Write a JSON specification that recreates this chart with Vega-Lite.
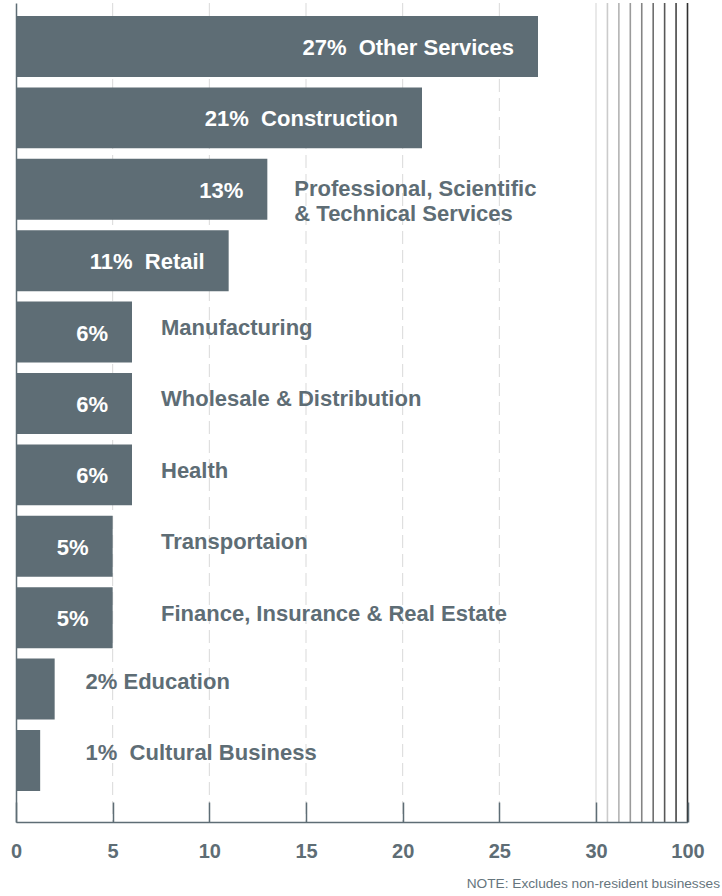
{
  "$schema": "https://vega.github.io/schema/vega-lite/v6.json",
  "width": 672,
  "height": 819,
  "autosize": {"type": "none"},
  "padding": {"left": 16, "top": 3, "right": 34, "bottom": 74},
  "background": "white",
  "config": {"view": {"stroke": null}, "font": "Liberation Sans"},
  "title": {
    "text": "NOTE: Excludes non-resident businesses",
    "orient": "bottom",
    "anchor": "end",
    "frame": "group",
    "dx": 32,
    "offset": 16,
    "fontSize": 13.7,
    "fontWeight": "normal",
    "color": "#66757d",
    "font": "Liberation Sans"
  },
  "datasets": {
    "bars": [
      {"cat": "Other Services", "x": 27, "inside": "27% \u00a0Other Services", "outside": null, "layout": "a"},
      {"cat": "Construction", "x": 21, "inside": "21% \u00a0Construction", "outside": null, "layout": "a"},
      {"cat": "Professional, Scientific & Technical Services", "x": 13, "inside": "13%", "outside": "Professional, Scientific\n& Technical Services", "layout": "c"},
      {"cat": "Retail", "x": 11, "inside": "11% \u00a0Retail", "outside": null, "layout": "a"},
      {"cat": "Manufacturing", "x": 6, "inside": "6%", "outside": "Manufacturing", "layout": "b"},
      {"cat": "Wholesale & Distribution", "x": 6, "inside": "6%", "outside": "Wholesale & Distribution", "layout": "b"},
      {"cat": "Health", "x": 6, "inside": "6%", "outside": "Health", "layout": "b"},
      {"cat": "Transportaion", "x": 5, "inside": "5%", "outside": "Transportaion", "layout": "b"},
      {"cat": "Finance, Insurance & Real Estate", "x": 5, "inside": "5%", "outside": "Finance, Insurance & Real Estate", "layout": "b"},
      {"cat": "Education", "x": 2, "inside": null, "outside": "2% Education", "layout": "d"},
      {"cat": "Cultural Business", "x": 1.25, "inside": null, "outside": "1% \u00a0Cultural Business", "layout": "d"}
    ],
    "grid": [{"x": 5}, {"x": 10}, {"x": 15}, {"x": 20}, {"x": 25}],
    "brk": [{"x": 30}, {"x": 38.75}, {"x": 47.5}, {"x": 56.25}, {"x": 65}, {"x": 73.75}, {"x": 82.5}, {"x": 91.25}, {"x": 100}]
  },
  "data": {"name": "bars"},
  "layer": [
    {
      "data": {"name": "grid"},
      "mark": {"type": "rule", "strokeDash": [13, 6], "color": "#d9d9d9", "strokeWidth": 1},
      "encoding": {
        "x": {"field": "x", "type": "quantitative", "scale": {"domain": [0, 30, 100], "range": [0, 580, 671.5], "nice": false, "zero": false}}
      }
    },
    {
      "data": {"name": "brk"},
      "mark": {"type": "rule", "strokeWidth": 1.6},
      "encoding": {
        "x": {"field": "x", "type": "quantitative", "scale": {"domain": [0, 30, 100], "range": [0, 580, 671.5], "nice": false, "zero": false}},
        "color": {"field": "x", "type": "quantitative", "scale": {"domain": [30, 100], "range": ["#e4e4e4", "#303030"]}, "legend": null}
      }
    },
    {
      "mark": {"type": "bar", "color": "#5e6d75"},
      "encoding": {
        "x": {
          "field": "x",
          "type": "quantitative",
          "scale": {"domain": [0, 30, 100], "range": [0, 580, 671.5], "nice": false, "zero": false},
          "axis": {
            "values": [0, 5, 10, 15, 20, 25, 30, 100],
            "grid": false,
            "title": null,
            "tickSize": -20,
            "tickColor": "#5e6d75",
            "tickWidth": 1.5,
            "domainColor": "#5e6d75",
            "domainWidth": 1.5,
            "labelFont": "Liberation Sans",
            "labelFontSize": 20,
            "labelFontWeight": "bold",
            "labelColor": "#5e6d75",
            "labelPadding": 39,
            "labelFlush": false,
            "labelOverlap": false,
            "zindex": 1
          }
        },
        "y": {
          "field": "cat",
          "type": "nominal",
          "sort": null,
          "scale": {"paddingInner": 0.146, "paddingOuter": 0.3085, "align": 0.295},
          "axis": {"labels": false, "ticks": false, "title": null, "grid": false, "domainColor": "#5e6d75", "domainWidth": 1.5, "zindex": 1}
        }
      }
    },
    {
      "transform": [{"filter": "isValid(datum.inside)"}],
      "mark": {"type": "text", "align": "right", "baseline": "middle", "dx": -24, "dy": 1.5, "color": "white", "font": "Liberation Sans", "fontWeight": "bold", "fontSize": 22},
      "encoding": {
        "x": {"field": "x", "type": "quantitative"},
        "y": {"field": "cat", "type": "nominal", "sort": null},
        "text": {"field": "inside"}
      }
    },
    {
      "transform": [{"filter": "datum.layout == 'b'"}],
      "mark": {"type": "text", "align": "left", "baseline": "middle", "dy": -4, "color": "#5e6d75", "font": "Liberation Sans", "fontWeight": "bold", "fontSize": 22},
      "encoding": {
        "x": {"datum": 7.5, "type": "quantitative"},
        "y": {"field": "cat", "type": "nominal", "sort": null},
        "text": {"field": "outside"}
      }
    },
    {
      "transform": [{"filter": "datum.layout == 'c'"}],
      "mark": {"type": "text", "align": "left", "baseline": "middle", "dx": 27, "lineBreak": "\n", "lineHeight": 25, "color": "#5e6d75", "font": "Liberation Sans", "fontWeight": "bold", "fontSize": 22},
      "encoding": {
        "x": {"field": "x", "type": "quantitative"},
        "y": {"field": "cat", "type": "nominal", "sort": null},
        "text": {"field": "outside"}
      }
    },
    {
      "transform": [{"filter": "datum.layout == 'd'"}],
      "mark": {"type": "text", "align": "left", "baseline": "middle", "dy": -7, "color": "#5e6d75", "font": "Liberation Sans", "fontWeight": "bold", "fontSize": 22},
      "encoding": {
        "x": {"datum": 3.6, "type": "quantitative"},
        "y": {"field": "cat", "type": "nominal", "sort": null},
        "text": {"field": "outside"}
      }
    }
  ]
}
